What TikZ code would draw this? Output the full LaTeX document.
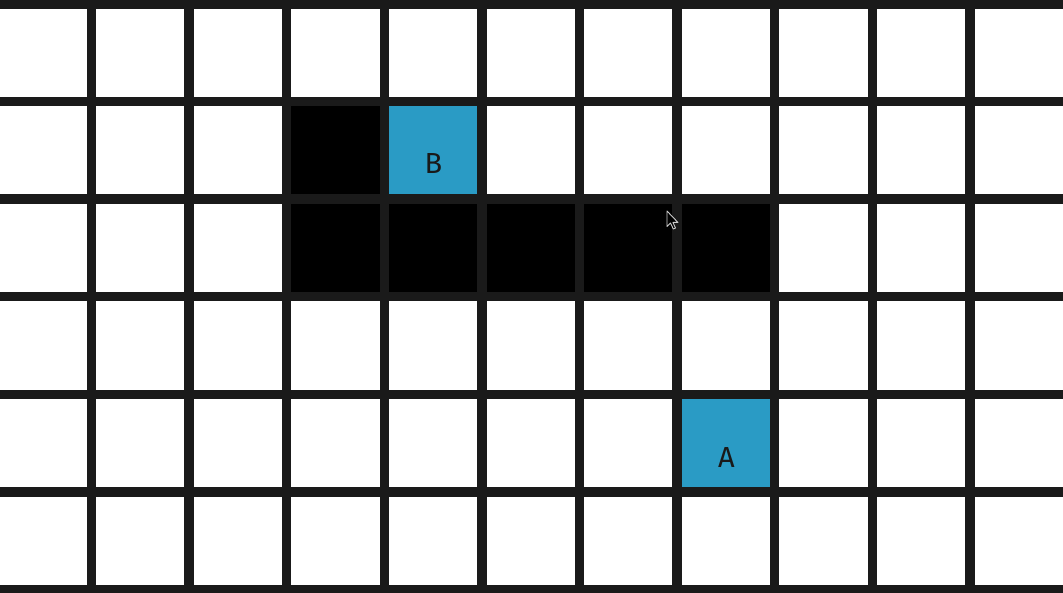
\documentclass[tikz,border=0pt]{standalone}
\usepackage{fontspec}
\setsansfont{Fira Sans}
\definecolor{gridline}{HTML}{1A1A1A}
\definecolor{cellblue}{HTML}{2A9BC5}
\tikzset{
  gridrule/.style={draw=gridline, line width=9.5pt},
  wallcell/.style={fill=black},
  goalcell/.style={fill=cellblue},
  celllabel/.style={font=\sffamily\fontsize{29}{29}\selectfont, text=black!90, inner sep=0pt},
  pointer/.style={fill=black, draw=white!80!black, line width=0.9pt, line join=round}
}
\begin{document}
\begin{tikzpicture}[x=1pt, y=-1pt]
\useasboundingbox (0,0) rectangle (1063,592);
\fill[white] (0,0) rectangle (1063,592);
% cells
\fill[wallcell] (286.7,101.5) rectangle (384.3,199.1);
\fill[goalcell] (384.3,101.5) rectangle (481.9,199.1);
\fill[wallcell] (286.7,199.1) rectangle (774.7,296.7);
\fill[goalcell] (677.1,394.3) rectangle (774.7,491.9);
% grid lines
\foreach \k in {0,...,9} {
  \draw[gridrule] ({91.5+97.6*\k},-10) -- ({91.5+97.6*\k},602);
}
\foreach \j in {0,...,6} {
  \draw[gridrule] (-10,{3.9+97.6*\j}) -- (1073,{3.9+97.6*\j});
}
% labels
\node[celllabel] (B) at (433.5,164) {B};
\node[celllabel] (A) at (726.5,457.5) {A};
% mouse pointer
\draw[pointer] (667,211) -- ++(0,15.5) -- ++(3.5,-3.5) -- ++(2.8,6) -- ++(2.2,-1) -- ++(-2.6,-5.6) -- ++(5,0) -- cycle;
\end{tikzpicture}
\end{document}
